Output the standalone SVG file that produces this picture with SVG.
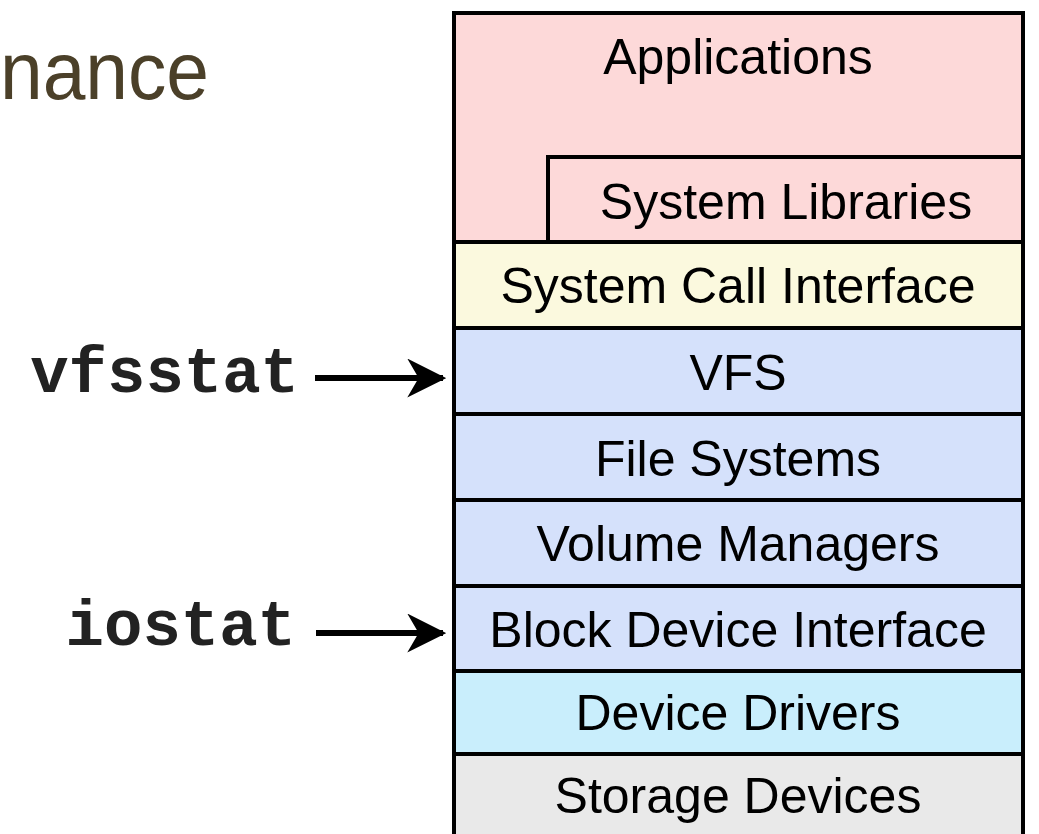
<svg xmlns="http://www.w3.org/2000/svg" width="1039" height="834" viewBox="0 0 1039 834">
  <defs>
    <style>
      .layer { stroke: #000; stroke-width: 4; }
      .lbl { font-family: "Liberation Sans", Arial, Helvetica, sans-serif; font-size: 50px; fill: #000; text-anchor: middle; }
      .tool { font-family: "Liberation Mono", "Courier New", monospace; font-weight: bold; font-size: 64px; fill: #222; text-anchor: end; }
      .title { font-family: "Liberation Sans", Arial, Helvetica, sans-serif; font-size: 82px; fill: #4b4029; }
      .arrow { stroke: #000; stroke-width: 6; fill: none; }
    </style>
    <marker id="head" viewBox="0 0 12 12" refX="11" refY="6" markerWidth="6.5" markerHeight="6.5" markerUnits="strokeWidth" orient="auto">
      <path d="M0,0 L12,6 L0,12 L3.5,6 Z" fill="#000"/>
    </marker>
  </defs>

  <rect width="1039" height="834" fill="#fff"/>

  <text class="title" x="0" y="99" textLength="209" lengthAdjust="spacingAndGlyphs">nance</text>

  <!-- storage stack, top to bottom -->
  <g id="applications">
    <rect class="layer" x="454" y="13" width="569" height="229" fill="#fdd9d9"/>
    <text class="lbl" x="738" y="74">Applications</text>
  </g>
  <g id="system-libraries">
    <rect class="layer" x="548" y="157" width="475" height="85" fill="#fdd9d9"/>
    <text class="lbl" x="786" y="219">System Libraries</text>
  </g>
  <g id="syscall-interface">
    <rect class="layer" x="454" y="242" width="569" height="86" fill="#fbf9de"/>
    <text class="lbl" x="738" y="303">System Call Interface</text>
  </g>
  <g id="vfs">
    <rect class="layer" x="454" y="328" width="569" height="86" fill="#d5e1fb"/>
    <text class="lbl" x="738" y="390">VFS</text>
  </g>
  <g id="file-systems">
    <rect class="layer" x="454" y="414" width="569" height="86" fill="#d5e1fb"/>
    <text class="lbl" x="738" y="476">File Systems</text>
  </g>
  <g id="volume-managers">
    <rect class="layer" x="454" y="500" width="569" height="86" fill="#d5e1fb"/>
    <text class="lbl" x="738" y="561">Volume Managers</text>
  </g>
  <g id="block-device-interface">
    <rect class="layer" x="454" y="586" width="569" height="85" fill="#d5e1fb"/>
    <text class="lbl" x="738" y="647">Block Device Interface</text>
  </g>
  <g id="device-drivers">
    <rect class="layer" x="454" y="671" width="569" height="83" fill="#c9eefc"/>
    <text class="lbl" x="738" y="730">Device Drivers</text>
  </g>
  <g id="storage-devices">
    <rect class="layer" x="454" y="754" width="569" height="100" fill="#e9e9e9"/>
    <text class="lbl" x="738" y="813">Storage Devices</text>
  </g>

  <!-- observability tools -->
  <g id="vfsstat">
    <text class="tool" x="299" y="392">vfsstat</text>
  </g>
  <g id="iostat">
    <text class="tool" x="296" y="645">iostat</text>
  </g>

  <g id="connectors">
    <line class="arrow" x1="315" y1="378" x2="443" y2="378" marker-end="url(#head)"/>
    <line class="arrow" x1="316" y1="633" x2="443" y2="633" marker-end="url(#head)"/>
  </g>
</svg>
